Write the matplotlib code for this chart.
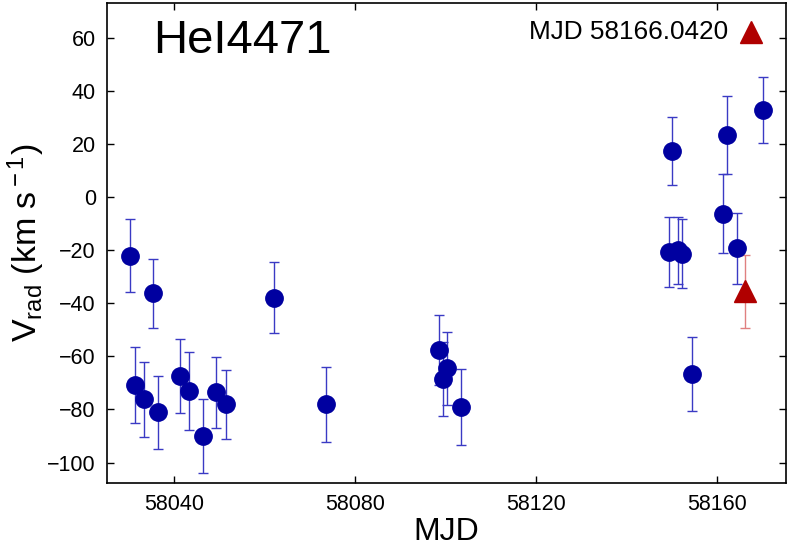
import numpy as np
import matplotlib
matplotlib.use("Agg")
import matplotlib.pyplot as plt

plt.rcParams['font.family'] = ['Liberation Sans', 'DejaVu Sans']
plt.rcParams['mathtext.fontset'] = 'custom'
plt.rcParams['mathtext.rm'] = 'Liberation Sans'
plt.rcParams['mathtext.it'] = 'Liberation Sans'

# HeI 4471 radial velocities
mjd = [58030.3, 58035.3, 58031.4, 58033.3, 58036.5, 58041.4, 58043.4,
       58046.4, 58049.3, 58051.4, 58062.2, 58073.5,
       58098.5, 58099.4, 58100.4, 58103.4,
       58149.3, 58150.1, 58151.3, 58152.3, 58154.4,
       58161.3, 58162.1, 58164.4, 58170.2]
vrad = [-22.1, -36.3, -70.8, -76.2, -81.1, -67.4, -73.1,
        -89.9, -73.6, -78.1, -37.9, -78.1,
        -57.6, -68.5, -64.5, -79.0,
        -20.7, 17.3, -20.0, -21.3, -66.7,
        -6.2, 23.4, -19.3, 32.8]
verr = [13.8, 12.9, 14.2, 14.0, 13.8, 14.0, 14.7,
        14.0, 13.3, 12.9, 13.3, 14.0,
        13.3, 14.0, 13.8, 14.2,
        13.3, 12.8, 12.6, 12.9, 14.0,
        14.9, 14.8, 13.3, 12.4]

# highlighted epoch
mjd_hl = [58166.042]
vrad_hl = [-35.5]
verr_hl = [13.8]

fig = plt.figure(figsize=(7.89, 5.47), dpi=100)
ax = fig.add_axes([0.1356, 0.117, 0.8606, 0.877])

ax.errorbar(mjd, vrad, yerr=verr, fmt='none', ecolor='#3a3ac4',
            elinewidth=1.0, capsize=3.5, capthick=1.0, zorder=2)
ax.plot(mjd, vrad, 'o', color='#0000a0', markersize=12.5, zorder=3)

ax.errorbar(mjd_hl, vrad_hl, yerr=verr_hl, fmt='none', ecolor='#e08080',
            elinewidth=1.0, capsize=3.5, capthick=1.0, zorder=2)
ax.plot(mjd_hl, vrad_hl, '^', color='#b00000', markersize=16, zorder=3)

ax.set_xlim(58025.2, 58175.2)
ax.set_ylim(-107.7, 73)
ax.set_xticks([58040, 58080, 58120, 58160])
ax.set_yticks(np.arange(-100, 61, 20))
ax.tick_params(direction='in', length=5, width=1, top=True, right=True,
               labelsize=15.5, pad=8)
for s in ax.spines.values():
    s.set_linewidth(1.2)

ax.set_xlabel('MJD', fontsize=23, labelpad=1)
ax.set_ylabel(r'V$_{\rm rad}$ (km s$^{\rm -1}$)', fontsize=24.5, labelpad=0)

ax.text(0.2, 0.922, 'HeI4471', transform=ax.transAxes, fontsize=34,
        ha='center', va='center')
ax.text(0.915, 0.94, 'MJD 58166.0420', transform=ax.transAxes, fontsize=18.8,
        ha='right', va='center')
ax.plot([0.949], [0.94], '^', color='#b00000', markersize=16,
        transform=ax.transAxes, clip_on=False)

fig.savefig('out.png', dpi=100)
